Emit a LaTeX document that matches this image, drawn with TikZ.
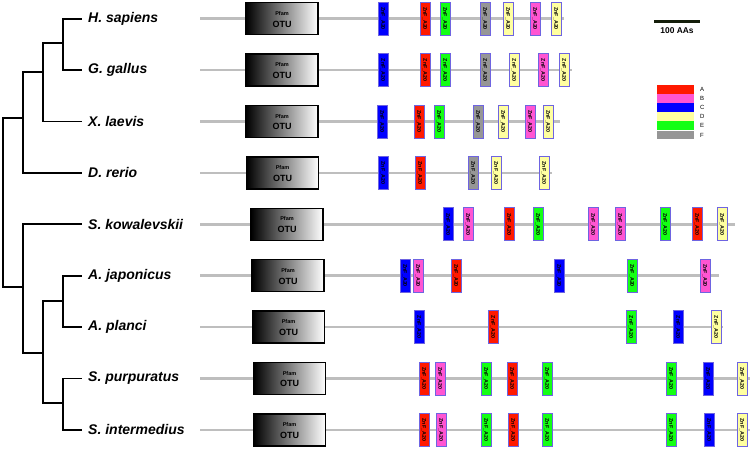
\documentclass[tikz,border=0pt]{standalone}
\usepackage{fontspec}
\setmainfont{Liberation Sans}
\definecolor{cA}{RGB}{255,25,0}
\definecolor{cB}{RGB}{255,85,210}
\definecolor{cC}{RGB}{0,0,255}
\definecolor{cD}{RGB}{255,255,160}
\definecolor{cE}{RGB}{20,255,20}
\definecolor{cF}{RGB}{150,150,150}
\definecolor{protgray}{RGB}{190,190,190}
\definecolor{znfedge}{RGB}{110,100,225}
\definecolor{barcol}{RGB}{20,30,10}
\tikzset{
  treeline/.style={line width=1.8pt, black},
  taxon/.style={anchor=west, inner sep=0pt, font=\fontsize{14}{16}\selectfont\bfseries\itshape},
  protline/.style={line width=2.5pt, protgray},
  otu/.style={draw=black, line width=1.3pt, left color=black, right color=white, minimum width=72pt, minimum height=32pt, inner sep=0pt},
  pfamtxt/.style={font=\fontsize{5.5}{6}\selectfont\bfseries, inner sep=0pt},
  otutxt/.style={font=\fontsize{9}{10}\selectfont\bfseries, inner sep=0pt},
  znf/.style={draw=znfedge, line width=0.8pt, rotate=-90, minimum width=33pt, minimum height=10pt, inner sep=0pt, font=\fontsize{5.3}{6}\selectfont\bfseries},
  legbox/.style={minimum width=37pt, minimum height=8.5pt, inner sep=0pt, anchor=north west},
  legtxt/.style={anchor=west, inner sep=0pt, font=\fontsize{6}{7}\selectfont},
}
\begin{document}
\begin{tikzpicture}[x=1pt,y=-1pt]
\useasboundingbox (0,0) rectangle (751,448);
% ---------- tree ----------
\foreach \i/\y/\name in {1/18.7/H. sapiens, 2/70.1/G. gallus, 3/121.5/X. laevis, 4/172.9/D. rerio, 5/224.3/S. kowalevskii, 6/275.7/A. japonicus, 7/327.1/A. planci, 8/378.5/S. purpuratus, 9/429.9/S. intermedius}{
  \coordinate (L\i) at (82,\y);
  \node[taxon] (T\i) at (88,\y) {\name};
}
\coordinate (hg) at (63,43.3);
\coordinate (hgx) at (43,71.7);
\coordinate (vert) at (23,118.3);
\coordinate (aa) at (63,301);
\coordinate (ss) at (63,403.3);
\coordinate (ech) at (43,353.3);
\coordinate (inv) at (23,287.3);
\coordinate (root) at (3,200);
\draw[treeline] (hg) |- (L1);
\draw[treeline] (hg) |- (L2);
\draw[treeline] (hgx) |- (hg);
\draw[treeline] (hgx) |- (L3);
\draw[treeline] (vert) |- (hgx);
\draw[treeline] (vert) |- (L4);
\draw[treeline] (aa) |- (L6);
\draw[treeline] (aa) |- (L7);
\draw[treeline] (ss) |- (L8);
\draw[treeline] (ss) |- (L9);
\draw[treeline] (ech) |- (aa);
\draw[treeline] (ech) |- (ss);
\draw[treeline] (inv) |- (L5);
\draw[treeline] (inv) |- (ech);
\draw[treeline] (root) |- (vert);
\draw[treeline] (root) |- (inv);
% ---------- protein lines ----------
\foreach \i/\y/\e/\ox in {1/18.7/564/282, 2/70.1/572/282, 3/121.5/560/282, 4/172.9/552/282.5, 5/224.3/735/287, 6/275.7/719/288, 7/327.1/723/288.5, 8/378.5/750/289.5, 9/429.9/750/289.5}{
  \coordinate (s\i) at (200,\y);
  \coordinate (e\i) at (\e,\y);
  \draw[protline] (s\i) -- (e\i);
  \node[otu] (otu\i) at (\ox,\y) {};
  \node[pfamtxt] (pf\i) at ([yshift=5.4pt]otu\i.center) {Pfam};
  \node[otutxt] (ot\i) at ([yshift=-5.3pt]otu\i.center) {OTU};
}
% ---------- ZnF_A20 domains ----------
\foreach \x/\c [count=\k] in {383/cC, 425/cA, 445/cE, 485/cF, 508/cD, 535/cB, 556/cD}
  \node[znf, fill=\c] (z1-\k) at (\x,18.7) {ZnF\_A20};
\foreach \x/\c [count=\k] in {383/cC, 425/cA, 445/cE, 485/cF, 514/cD, 543/cB, 564/cD}
  \node[znf, fill=\c] (z2-\k) at (\x,70.1) {ZnF\_A20};
\foreach \x/\c [count=\k] in {382/cC, 419/cA, 439/cE, 478/cF, 503/cD, 530/cB, 548/cD}
  \node[znf, fill=\c] (z3-\k) at (\x,121.5) {ZnF\_A20};
\foreach \x/\c [count=\k] in {383/cC, 420/cA, 473/cF, 496/cD, 544/cD}
  \node[znf, fill=\c] (z4-\k) at (\x,172.9) {ZnF\_A20};
\foreach \x/\c [count=\k] in {448/cC, 468/cB, 509/cA, 538/cE, 593/cB, 620/cB, 665/cE, 697/cA, 722/cD}
  \node[znf, fill=\c] (z5-\k) at (\x,224.3) {ZnF\_A20};
\foreach \x/\c [count=\k] in {405/cC, 418/cB, 456/cA, 559/cC, 632/cE, 705/cB}
  \node[znf, fill=\c] (z6-\k) at (\x,275.7) {ZnF\_A20};
\foreach \x/\c [count=\k] in {419/cC, 493/cA, 631/cE, 678/cC, 716/cD}
  \node[znf, fill=\c] (z7-\k) at (\x,327.1) {ZnF\_A20};
\foreach \x/\c [count=\k] in {424/cA, 440/cB, 486/cE, 512/cA, 547/cE, 671/cE, 708/cC, 742/cD}
  \node[znf, fill=\c] (z8-\k) at (\x,378.5) {ZnF\_A20};
\foreach \x/\c [count=\k] in {424/cA, 441/cB, 486/cE, 513/cA, 547/cE, 671/cE, 709/cC, 742/cD}
  \node[znf, fill=\c] (z9-\k) at (\x,429.9) {ZnF\_A20};
% ---------- scale bar ----------
\coordinate (sb1) at (654,21);
\coordinate (sb2) at (700,21);
\draw[line width=3pt, barcol] (sb1) -- (sb2);
\node[font=\fontsize{8.4}{9}\selectfont\bfseries, inner sep=0pt] (sbl) at (677,30.5) {100 AAs};
% ---------- legend ----------
\foreach \c/\l/\y in {cA/A/85, cB/B/94, cC/C/103, cD/D/112, cE/E/121, cF/F/130.5}{
  \node[legbox, fill=\c] (leg\l) at (657,\y) {};
  \node[legtxt] (legt\l) at (700,\y+4.5) {\l};
}
\end{tikzpicture}
\end{document}
